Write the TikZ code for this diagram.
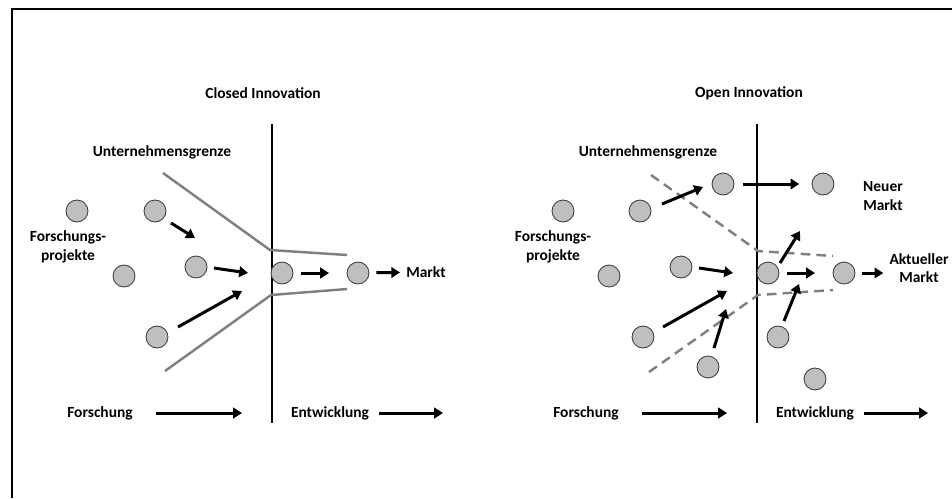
\documentclass[tikz,border=0pt]{standalone}
\usepackage{fontspec}
\setmainfont{Carlito}
\usetikzlibrary{arrows.meta}

\tikzset{
    proj/.style={circle, draw=black!75, fill=black!25, line width=0.5pt,
        minimum size=12.5pt, inner sep=0pt},
    lbl/.style={font=\bfseries\fontsize{8.8}{10.5}\selectfont, align=center},
    arr/.style={line width=1.7pt, -{Triangle[length=5pt,width=6pt]}},
    grenze/.style={black!50, line width=1.4pt},
    grenzeopen/.style={grenze, dash pattern=on 5.5pt off 3.5pt},
}

\begin{document}
\begin{tikzpicture}[x=0.02cm, y=-0.02cm]

    \useasboundingbox (0,0) rectangle (952,498);
    \draw[line width=1pt] (12,498) -- (12,9) -- (952,9);

    % Closed Innovation
    \begin{scope}
        \node[lbl] (ltitle) at (263,93) {Closed Innovation};
        \node[lbl] (lgrenze) at (162,152) {Unternehmensgrenze};
        \node[lbl] (lprojekte) at (68,247) {Forschungs-\\projekte};
        \node[lbl] (lmarkt) at (426,272) {Markt};
        \node[lbl] (lfo) at (100,413) {Forschung};
        \node[lbl] (lent) at (330,413) {Entwicklung};

        \draw[line width=0.7pt] (272,124) -- (272,423);
        \draw[grenze] (163,173) -- (270,250) -- (347,255);
        \draw[grenze] (165,371) -- (271,295) -- (347,289);

        \node[proj] (lc1) at (77,211) {};
        \node[proj] (lc2) at (155,211) {};
        \node[proj] (lc3) at (196,267) {};
        \node[proj] (lc4) at (124,276) {};
        \node[proj] (lc5) at (157,337) {};
        \node[proj] (lc6) at (282,273) {};
        \node[proj] (lc7) at (358,273) {};

        \coordinate (la1) at (171,223); \coordinate (lb1) at (195,238);
        \coordinate (la2) at (214,268); \coordinate (lb2) at (248,273);
        \coordinate (la3) at (178,327); \coordinate (lb3) at (242,291);
        \coordinate (lfoend) at (242,413);
        \coordinate (lentend) at (443,413);

        \draw[arr] (la1) -- (lb1);
        \draw[arr] (la2) -- (lb2);
        \draw[arr] (la3) -- (lb3);
        \draw[arr, shorten <=4.5pt, shorten >=10pt] (lc6) -- (lc7);
        \draw[arr, shorten <=4pt] (lc7) -- (lmarkt);
        \draw[arr, shorten <=9.5pt] (lfo) -- (lfoend);
        \draw[arr, shorten <=2.3pt] (lent) -- (lentend);
    \end{scope}

    % Open Innovation
    \begin{scope}
        \node[lbl] (rtitle) at (749,93) {Open Innovation};
        \node[lbl] (rgrenze) at (648,152) {Unternehmensgrenze};
        \node[lbl] (rprojekte) at (553,247) {Forschungs-\\projekte};
        \node[lbl] (rneu) at (883,196) {Neuer\\Markt};
        \node[lbl] (rakt) at (919,268) {Aktueller\\Markt};
        \node[lbl] (rfo) at (586,413) {Forschung};
        \node[lbl] (rent) at (815,413) {Entwicklung};

        \draw[line width=0.7pt] (757,124) -- (757,423);
        \draw[grenzeopen] (651,175) -- (758,251) -- (833,256);
        \draw[grenzeopen] (649,372) -- (758,295) -- (833,290);

        \node[proj] (rc1) at (563,211) {};
        \node[proj] (rc2) at (640,211) {};
        \node[proj] (rc3) at (723,184) {};
        \node[proj] (rc4) at (823,184) {};
        \node[proj] (rc5) at (681,267) {};
        \node[proj] (rc6) at (609,276) {};
        \node[proj] (rc7) at (768,273) {};
        \node[proj] (rc8) at (844,273) {};
        \node[proj] (rc9) at (643,337) {};
        \node[proj] (rc10) at (708,367) {};
        \node[proj] (rc11) at (778,337) {};
        \node[proj] (rc12) at (815,379) {};

        \coordinate (ra1) at (662,204); \coordinate (rb1) at (703,187);
        \coordinate (ra2) at (780,263); \coordinate (rb2) at (800,231);
        \coordinate (ra3) at (699,268); \coordinate (rb3) at (733,273);
        \coordinate (ra4) at (663,327); \coordinate (rb4) at (727,291);
        \coordinate (ra5) at (714,348); \coordinate (rb5) at (726,309);
        \coordinate (ra6) at (784,321); \coordinate (rb6) at (799,284);
        \coordinate (rfoend) at (727,413);
        \coordinate (rentend) at (928,413);

        \draw[arr] (ra1) -- (rb1);
        \draw[arr, shorten <=5pt, shorten >=7pt] (rc3) -- (rc4);
        \draw[arr] (ra2) -- (rb2);
        \draw[arr] (ra3) -- (rb3);
        \draw[arr] (ra4) -- (rb4);
        \draw[arr] (ra5) -- (rb5);
        \draw[arr] (ra6) -- (rb6);
        \draw[arr, shorten <=4.5pt, shorten >=10pt] (rc7) -- (rc8);
        \draw[arr, shorten <=3.5pt] (rc8) -- (rc8 -| rakt.west);
        \draw[arr, shorten <=9.5pt] (rfo) -- (rfoend);
        \draw[arr, shorten <=2.3pt] (rent) -- (rentend);
    \end{scope}

\end{tikzpicture}
\end{document}
